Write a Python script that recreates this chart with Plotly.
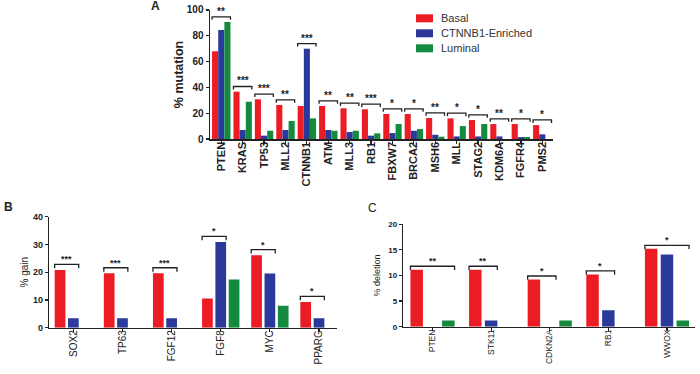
import plotly.graph_objects as go

# ---------------- data ----------------
groups = ["Basal", "CTNNB1-Enriched", "Luminal"]

mut_genes = ["PTEN", "KRAS", "TP53", "MLL2", "CTNNB1", "ATM", "MLL3", "RB1",
             "FBXW7", "BRCA2", "MSH6", "MLL", "STAG2", "KDM6A", "FGFR4", "PMS2"]
mut_basal = [68, 36.7, 30.8, 26.4, 25.6, 25.6, 23.8, 23, 19.4, 19.4, 16.3, 16, 14.7, 11.6, 11.6, 10.8]
mut_ctnnb1 = [84.5, 7, 2.6, 7, 70, 7, 5.4, 2.6, 4.6, 6.4, 3.3, 2, 2, 2, 1.5, 3.6]
mut_luminal = [90.7, 28.9, 6.4, 14, 16, 6.4, 6.4, 4.4, 11.6, 7.7, 1.8, 10, 11.6, 0, 1.5, 0]
mut_sig = ["**", "***", "***", "**", "***", "**", "**", "***", "*", "*", "**", "*", "*", "**", "*", "*"]
mut_cmp_end = [2] * 16

gain_genes = ["SOX2", "TP63", "FGF12", "FGF8", "MYC", "PPARG"]
gain_basal = [20.8, 19.6, 19.6, 10.5, 26.1, 9.3]
gain_ctnnb1 = [3.4, 3.4, 3.4, 30.9, 19.5, 3.4]
gain_luminal = [0, 0, 0, 17.4, 7.9, 0]
gain_sig = ["***", "***", "***", "*", "*", "*"]
gain_cmp_end = [1, 1, 1, 1, 1, 1]

del_genes = ["PTEN", "STK11", "CDKN2A", "RB1", "WWOX"]
del_basal = [11.1, 11.1, 9.2, 10.2, 15.2]
del_ctnnb1 = [0, 1.2, 0, 3.2, 14.1]
del_luminal = [1.2, 0, 1.2, 0, 1.2]
del_sig = ["**", "**", "*", "*", "*"]
del_cmp_end = [2, 1, 1, 1, 2]

# ---------------- style ----------------
colors = ["#EC1C24", "#2B3A9A", "#138A3E"]
FONT = "Arial, Liberation Sans, sans-serif"
INK = "#222222"
W, H = 700, 374

fig = go.Figure()

panels = [
    dict(x="x", y="y", genes=mut_genes, series=[mut_basal, mut_ctnnb1, mut_luminal],
         sig=mut_sig, cmp=mut_cmp_end, slot=0.288, width=0.285, off=4.0, drop=2.3,
         star=10),
    dict(x="x2", y="y2", genes=gain_genes, series=[gain_basal, gain_ctnnb1, gain_luminal],
         sig=gain_sig, cmp=gain_cmp_end, slot=0.271, width=0.218, off=2.0, drop=1.4,
         star=9),
    dict(x="x3", y="y3", genes=del_genes, series=[del_basal, del_ctnnb1, del_luminal],
         sig=del_sig, cmp=del_cmp_end, slot=0.27, width=0.213, off=0.7, drop=0.75,
         star=9),
]

shapes = []
annotations = []
for p in panels:
    n = len(p["genes"])
    xs = list(range(n))
    offsets = [(-1.5 + k) * p["slot"] + (p["slot"] - p["width"]) / 2 for k in range(3)]
    for k, (g, vals) in enumerate(zip(groups, p["series"])):
        fig.add_trace(go.Bar(
            x=xs, y=vals, name=g, xaxis=p["x"], yaxis=p["y"],
            width=p["width"], offset=offsets[k],
            marker=dict(color=colors[k], line=dict(width=0)),
            showlegend=False, hoverinfo="skip",
        ))
    for i in range(n):
        end = p["cmp"][i]
        vmax = max(p["series"][k][i] for k in range(end + 1))
        yb = vmax + p["off"]
        x0 = i + offsets[0]
        x1 = i + offsets[end] + p["width"]
        shapes.append(dict(
            type="path", xref=p["x"], yref=p["y"],
            path=f"M {x0},{yb - p['drop']} L {x0},{yb} L {x1},{yb} L {x1},{yb - p['drop']}",
            line=dict(color=INK, width=1.3),
        ))
        annotations.append(dict(
            x=(x0 + x1) / 2, y=yb, xref=p["x"], yref=p["y"], text=p["sig"][i],
            showarrow=False, yanchor="bottom", yshift=-2,
            font=dict(family=FONT, size=p["star"], color=INK, weight="bold"),
        ))

# legend (drawn as swatches + labels, compact row spacing like the original)
for k, g in enumerate(groups):
    yc = 18.3 + 15 * k
    shapes.append(dict(type="rect", xref="paper", yref="paper",
                       x0=416 / W, x1=433 / W, y0=1 - (yc + 4) / H, y1=1 - (yc - 4) / H,
                       fillcolor=colors[k], line=dict(width=0)))
    annotations.append(dict(x=439 / W, y=1 - yc / H, xref="paper", yref="paper", text=g,
                            showarrow=False, xanchor="left", yanchor="middle",
                            font=dict(family=FONT, size=11, color="#333333")))

axis_common = dict(showline=True, linecolor=INK, linewidth=1.5, ticks="outside",
                   ticklen=3, tickwidth=1.2, tickcolor=INK, showgrid=False, zeroline=False,
                   automargin=False)

fig.update_layout(
    template="none",
    width=W, height=H, autosize=False,
    margin=dict(l=0, r=0, t=0, b=0, pad=0),
    paper_bgcolor="white", plot_bgcolor="white",
    barmode="group", showlegend=False,
    font=dict(family=FONT, color=INK),
    xaxis=dict(domain=[0.300, 0.790], anchor="y", range=[-0.526, 15.5],
               tickvals=list(range(len(mut_genes))), ticktext=mut_genes, tickangle=-90,
               ticklabelstandoff=-6,
               tickfont=dict(family=FONT, size=11, color=INK, weight="bold"), **axis_common),
    yaxis=dict(domain=[0.6283, 0.9733], anchor="x", range=[0, 100], dtick=20,
               tickfont=dict(family=FONT, size=10, color=INK, weight="bold"),
               title=dict(text="% mutation", font=dict(family=FONT, size=12.5, color=INK, weight="bold"),
                          standoff=0),
               **axis_common),
    xaxis2=dict(domain=[0.0704, 0.481], anchor="y2", range=[-0.49, 5.36],
                tickvals=list(range(len(gain_genes))), ticktext=gain_genes, tickangle=-90,
                ticklabelstandoff=-6,
                tickfont=dict(family=FONT, size=10, color=INK), **axis_common),
    yaxis2=dict(domain=[0.1238, 0.4206], anchor="x2", range=[0, 40], dtick=10,
                tickfont=dict(family=FONT, size=9, color=INK, weight="bold"),
                title=dict(text="% gain", font=dict(family=FONT, size=10, color=INK),
                           standoff=2),
                **axis_common),
    xaxis3=dict(domain=[0.576, 0.993], anchor="y3", range=[-0.5, 4.48],
                tickvals=list(range(len(del_genes))), ticktext=del_genes, tickangle=-90,
                ticklabelstandoff=-5,
                tickfont=dict(family=FONT, size=8.5, color=INK), **axis_common),
    yaxis3=dict(domain=[0.1265, 0.4003], anchor="x3", range=[0, 20], dtick=5,
                tickfont=dict(family=FONT, size=8, color=INK, weight="bold"),
                title=dict(text="% deletion", font=dict(family=FONT, size=9, color=INK),
                           standoff=6),
                **axis_common),
    shapes=shapes,
)

panel_labels = [("A", 155, 6, True), ("B", 8, 207, True), ("C", 373, 208, False)]
for t, px, py, bold in panel_labels:
    annotations.append(dict(
        x=px / W, y=1 - py / H, xref="paper", yref="paper", text=t, showarrow=False,
        xanchor="center", yanchor="middle",
        font=dict(family=FONT, size=12, color=INK, weight="bold" if bold else "normal"),
    ))
fig.update_layout(annotations=annotations)

fig.write_html("out.html", config={"displayModeBar": False, "staticPlot": True},
               post_script="document.body.style.margin='0px';")
